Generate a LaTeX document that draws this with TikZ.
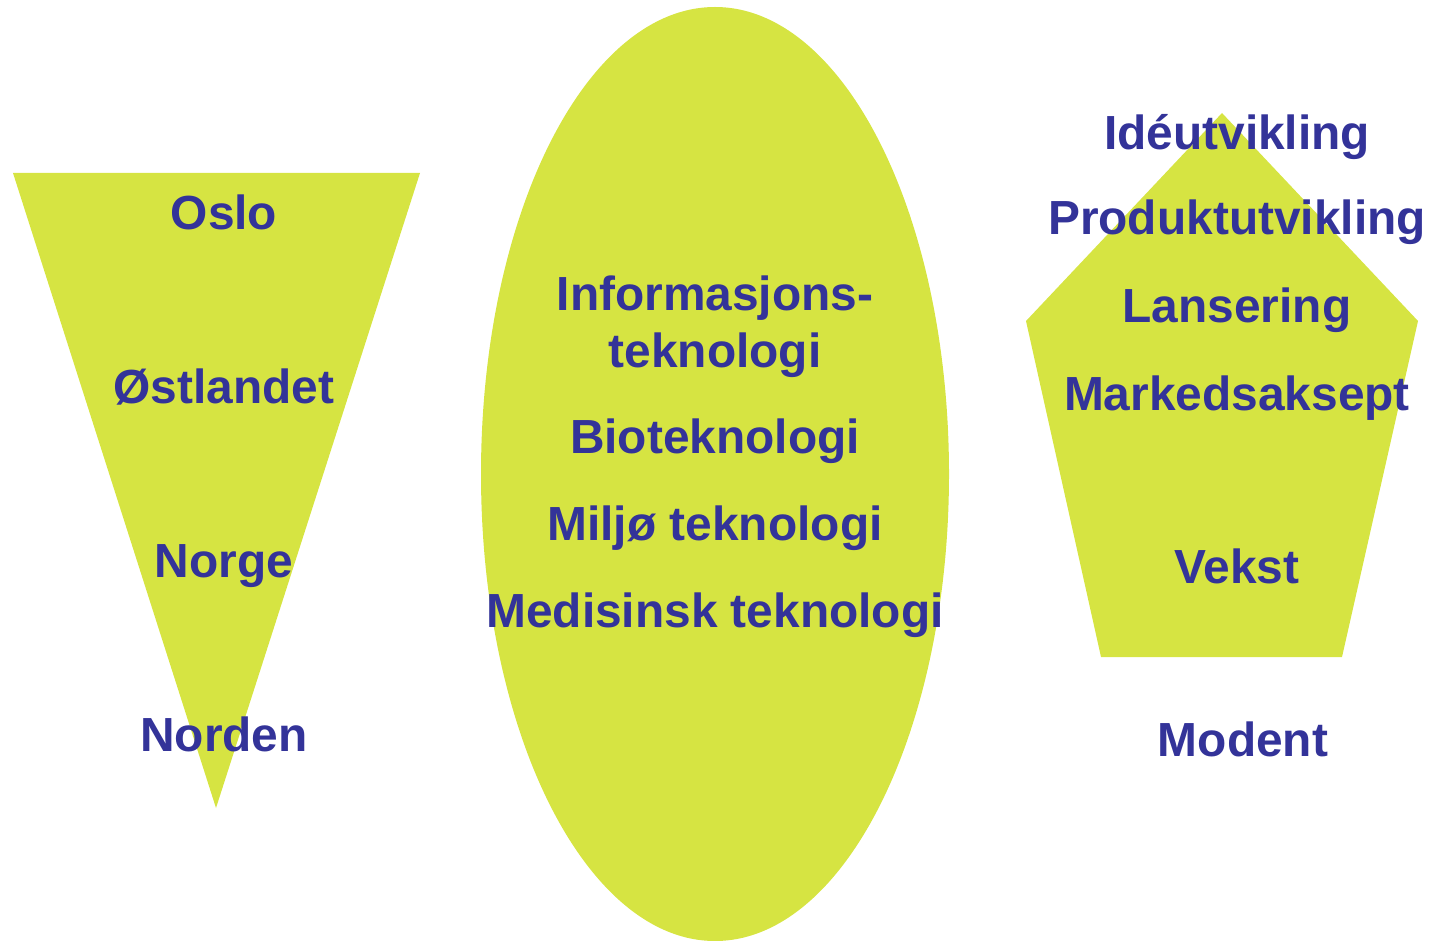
\documentclass[tikz,border=0pt]{standalone}
\usepackage{fontspec}
\setmainfont{Liberation Sans}
\definecolor{lime}{HTML}{D6E442}
\definecolor{navy}{HTML}{333399}
\begin{document}
\begin{tikzpicture}[x=0.75pt,y=-0.75pt,
  shapefill/.style={fill=lime,draw=none},
  lbl/.style={text=navy,font=\fontsize{35.9}{40}\selectfont\bfseries,anchor=base,inner sep=0pt}]
\useasboundingbox (0,0) rectangle (1441,941);
% shapes
\fill[shapefill] (13,173) -- (420,173) -- (216,808) -- cycle;
\fill[shapefill] (715,474) ellipse [x radius=234, y radius=467];
\fill[shapefill] (1222,113) -- (1418,321) -- (1342,657) -- (1101,657) -- (1026,321) -- cycle;
% left
\node[lbl] (oslo) at (224,230) {Oslo};
\node[lbl] (ost) at (224,403) {Østlandet};
\node[lbl] (norge) at (224,577) {Norge};
\node[lbl] (norden) at (224,751) {Norden};
% middle
\node[lbl] (info) at (715,310) {Informasjons-};
\node[lbl] (tek) at (715,367) {teknologi};
\node[lbl] (bio) at (715,453) {Bioteknologi};
\node[lbl] (milj) at (715,540) {Miljø teknologi};
\node[lbl] (med) at (715,627) {Medisinsk teknologi};
% right
\node[lbl] (ide) at (1237,150) {Idéutvikling};
\node[lbl] (prod) at (1237,235) {Produktutvikling};
\node[lbl] (lans) at (1237,322) {Lansering};
\node[lbl] (mark) at (1237,410) {Markedsaksept};
\node[lbl] (vekst) at (1237,583) {Vekst};
\node[lbl] (modent) at (1243,756) {Modent};
\end{tikzpicture}
\end{document}
